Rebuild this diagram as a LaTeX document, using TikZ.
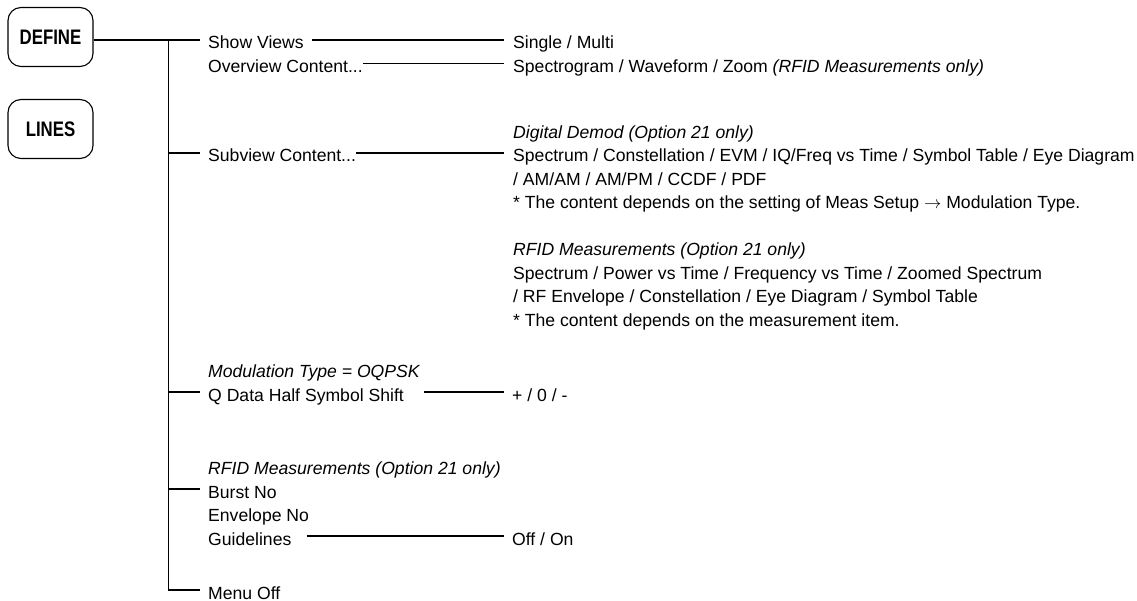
\documentclass[tikz,border=0pt]{standalone}
\usepackage{fontspec}
\setmainfont{Liberation Sans}
\newfontfamily\keyfont{Liberation Sans}[FakeStretch=0.8]
\usetikzlibrary{positioning}

\tikzset{
  keybox/.style={draw, line width=1.1pt, rounded corners=13pt,
    minimum width=85pt, minimum height=59pt, inner sep=0pt,
    font=\keyfont\bfseries\fontsize{21}{21}\selectfont},
  entry/.style={anchor=west, inner sep=0pt, text height=20pt, text depth=2pt},
  note/.style={entry, font=\fontsize{17.6}{23.5}\selectfont\itshape},
  wire/.style={line width=1.1pt}
}

\begin{document}
\begin{tikzpicture}[x=1pt, y=-1pt,
      every node/.style={font=\fontsize{17.6}{23.5}\selectfont}]
    \useasboundingbox (0,0) rectangle (1137,601);
    % front-panel keys
    \node[keybox] (DEFINE) at (50.5,37) {DEFINE};
    \node[keybox] (LINES) at (50.5,129) {LINES};
    % menu items
    \node[entry] (SHOW) at (208,40) {Show Views};
    \node[entry] (OVER) at (208,63.5) {Overview Content...};
    \node[entry] (SUB) at (208,153) {Subview Content...};
    \node[note] (MODNOTE) at (208,368.5) {Modulation Type = OQPSK};
    \node[entry] (QDATA) at (208,392) {Q Data Half Symbol Shift};
    \node[note] (RFIDNOTE) at (208,465.5) {RFID Measurements (Option 21 only)};
    \node[entry] (BURST) at (208,489) {Burst No};
    \node[entry] (ENV) at (208,512.5) {Envelope No};
    \node[entry] (GUIDE) at (208,536) {Guidelines};
    \node[entry] (MENUOFF) at (208,590) {Menu Off};
    % settings
    \node[entry] (SINGLE) at (513,40) {Single / Multi};
    \node[entry] (SPECTRO) at (513,63.5)
          {Spectrogram / Waveform / Zoom \textit{(RFID Measurements only)}};
    \node[note] (DDNOTE) at (513,129.5) {Digital Demod (Option 21 only)};
    \node[entry] (DD1) at (513,153)
          {Spectrum / Constellation / EVM / IQ/Freq vs Time / Symbol Table / Eye Diagram};
    \node[entry] (DD2) at (513,176.5) {/ AM/AM / AM/PM / CCDF / PDF};
    \node[entry] (DD3) at (513,200)
          {* The content depends on the setting of Meas Setup $\rightarrow$ Modulation Type.};
    \node[note] (RFNOTE) at (513,247) {RFID Measurements (Option 21 only)};
    \node[entry] (RF1) at (513,270.5)
          {Spectrum / Power vs Time / Frequency vs Time / Zoomed Spectrum};
    \node[entry] (RF2) at (513,294)
          {/ RF Envelope / Constellation / Eye Diagram / Symbol Table};
    \node[entry] (RF3) at (513,317.5) {* The content depends on the measurement item.};
    \node[entry] (QVAL) at (512,392) {+ / 0 / -};
    \node[entry] (GVAL) at (512,536) {Off / On};
    % tree
    \coordinate (TRUNK) at (168.5,40);
    \draw[wire] (DEFINE.east |- SHOW.west) -- ([xshift=-8pt]SHOW.west);
    \draw[wire] (TRUNK) -- (TRUNK |- MENUOFF.west) -- ([xshift=-8pt]MENUOFF.west);
    \draw[wire] (TRUNK |- SUB.west) -- ([xshift=-8pt]SUB.west);
    \draw[wire] (TRUNK |- QDATA.west) -- ([xshift=-8pt]QDATA.west);
    \draw[wire] (TRUNK |- BURST.west) -- ([xshift=-8pt]BURST.west);
    % item to setting
    \draw[wire] ([xshift=8pt]SHOW.east) -- ([xshift=-9pt]SINGLE.west);
    \draw[wire] (OVER.east) -- ([xshift=-9pt]SPECTRO.west);
    \draw[wire] (SUB.east) -- ([xshift=-9pt]DD1.west);
    \draw[wire] ([xshift=20pt]QDATA.east) -- ([xshift=-8pt]QVAL.west);
    \draw[wire] ([xshift=15pt]GUIDE.east) -- ([xshift=-8pt]GVAL.west);
  \end{tikzpicture}
\end{document}
